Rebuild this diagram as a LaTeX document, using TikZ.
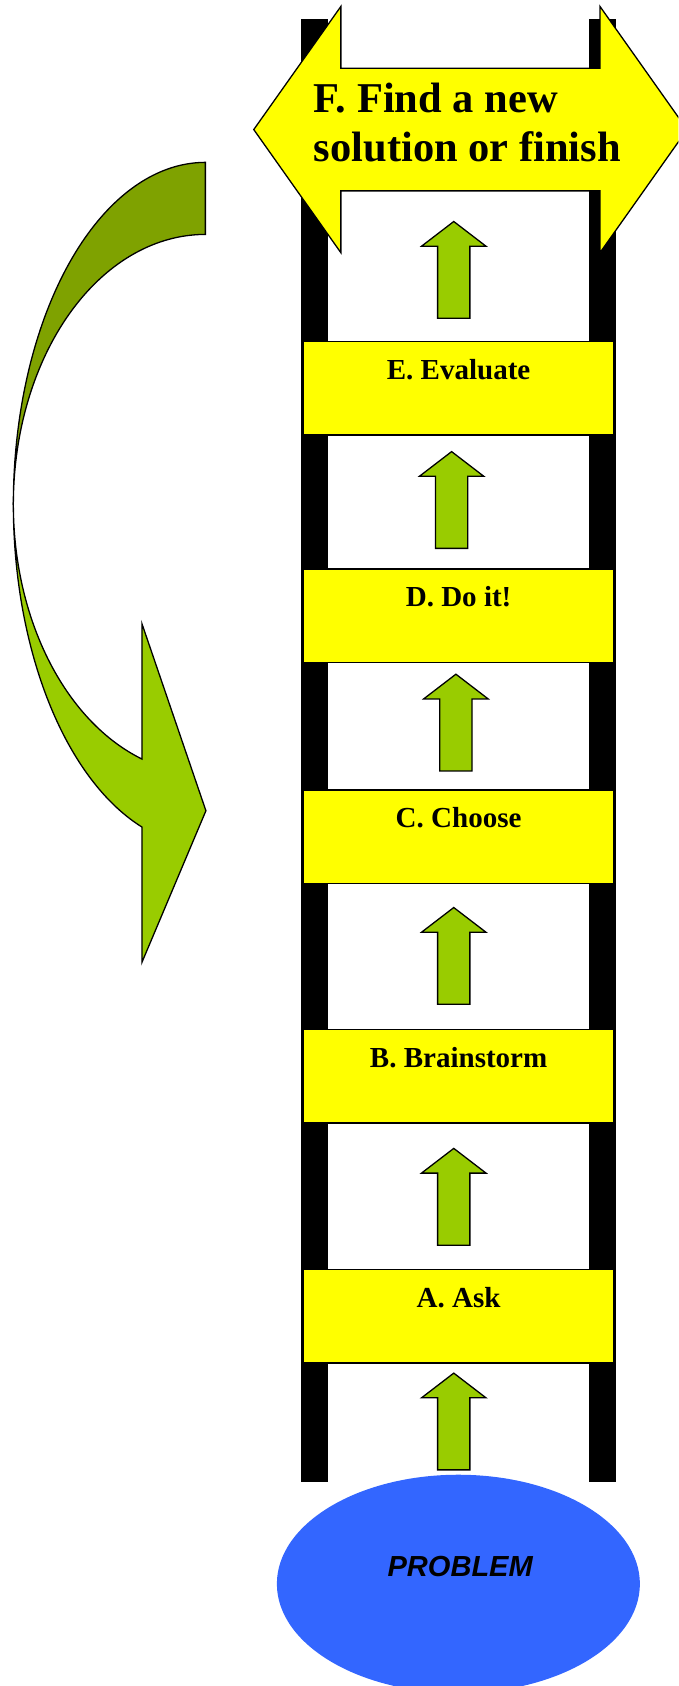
\documentclass[tikz,border=0pt]{standalone}
\usepackage{fontspec}
\setmainfont{Liberation Serif}
\setsansfont{Liberation Sans}
\usetikzlibrary{shapes.geometric,calc}
\definecolor{rungyellow}{HTML}{FFFF00}
\definecolor{leafgreen}{HTML}{99CC00}
\definecolor{olivegreen}{HTML}{7FA200}
\definecolor{problemblue}{HTML}{3366FF}
\begin{document}
\begin{tikzpicture}[x=1pt,y=-1pt,
  rail/.style={fill=black, draw=none},
  rungbox/.style={draw=black, line width=1.5pt, fill=rungyellow,
    minimum width=289pt, minimum height=87pt, inner sep=0pt, outer sep=0pt},
  rungtext/.style={font=\bfseries\fontsize{27}{30}\selectfont, anchor=base, inner sep=0pt},
  titletext/.style={font=\bfseries\fontsize{39.5}{45}\selectfont, anchor=base west, inner sep=0pt},
  outline/.style={draw=black, line width=1.2pt, line join=miter},
  blockfill/.style={outline, fill=leafgreen},
  uparrow/.pic={\path[blockfill] (-15,0) -- (-15,-67) -- (-30,-67) -- (0,-90)
      -- (30,-67) -- (15,-67) -- (15,0) -- cycle;}
]
\useasboundingbox (0,0) rectangle (631,1568);
\clip (0,0) rectangle (631,1568);

% ladder rails
\path[rail] (280,18) rectangle (305,1378);
\path[rail] (548,18) rectangle (573,1378);

% double-headed banner at the top of the ladder
\path[outline, fill=rungyellow] (236,120.5) -- (317,6) -- (317,63.5) -- (558,63.5)
  -- (558,6) -- (639,120.5) -- (558,235) -- (558,177.5) -- (317,177.5)
  -- (317,235) -- cycle;
\node[titletext] (titleA) at (291.7,105) {F. Find a new};
\node[titletext] (titleB) at (291.7,150.5) {solution or finish};

% rungs
\node[rungbox] (rungE) at (426.5,361) {};
\node[rungbox] (rungD) at (426.5,572.5) {};
\node[rungbox] (rungC) at (426.5,778) {};
\node[rungbox] (rungB) at (426.5,1001) {};
\node[rungbox] (rungA) at (426.5,1224) {};
\node[rungtext] (labelE) at ($(rungE.north)+(0,35.5)$) {E. Evaluate};
\node[rungtext] (labelD) at ($(rungD.north)+(0,35.5)$) {D. Do it!};
\node[rungtext] (labelC) at ($(rungC.north)+(0,35.5)$) {C. Choose};
\node[rungtext] (labelB) at ($(rungB.north)+(0,35.5)$) {B. Brainstorm};
\node[rungtext] (labelA) at ($(rungA.north)+(0,35.5)$) {A. Ask};

% upward step arrows
\pic at (422,296) {uparrow};
\pic at (420,510) {uparrow};
\pic at (424,717) {uparrow};
\pic at (422,934) {uparrow};
\pic at (422,1158) {uparrow};
\pic at (422,1367) {uparrow};

% curved return arrow: back band, then front band with head
\path[outline, fill=olivegreen]
  plot[domain=270:180, samples=80] ({191+178.6*cos(\x)},{469+318*sin(\x)})
  -- plot[domain=180:270, samples=80] ({191+178.6*cos(\x)},{469+251*sin(\x)})
  -- cycle;
\path[blockfill]
  plot[domain=180:109.29, samples=80] ({191+178.6*cos(\x)},{469+318*sin(\x)})
  -- (132,895) -- (191.5,754) -- (132,580)
  -- plot[domain=109.29:180, samples=80] ({191+178.6*cos(\x)},{469+251*sin(\x)})
  -- cycle;

% problem at the foot of the ladder
\node[ellipse, fill=problemblue, draw=none, inner sep=0pt,
  minimum width=337.6pt, minimum height=203pt] (problem) at (426.3,1473) {};
\node[font=\sffamily\bfseries\itshape\fontsize{27}{30}\selectfont, anchor=base,
  inner sep=0pt] (problemlabel) at (428,1466) {PROBLEM};
\end{tikzpicture}
\end{document}
